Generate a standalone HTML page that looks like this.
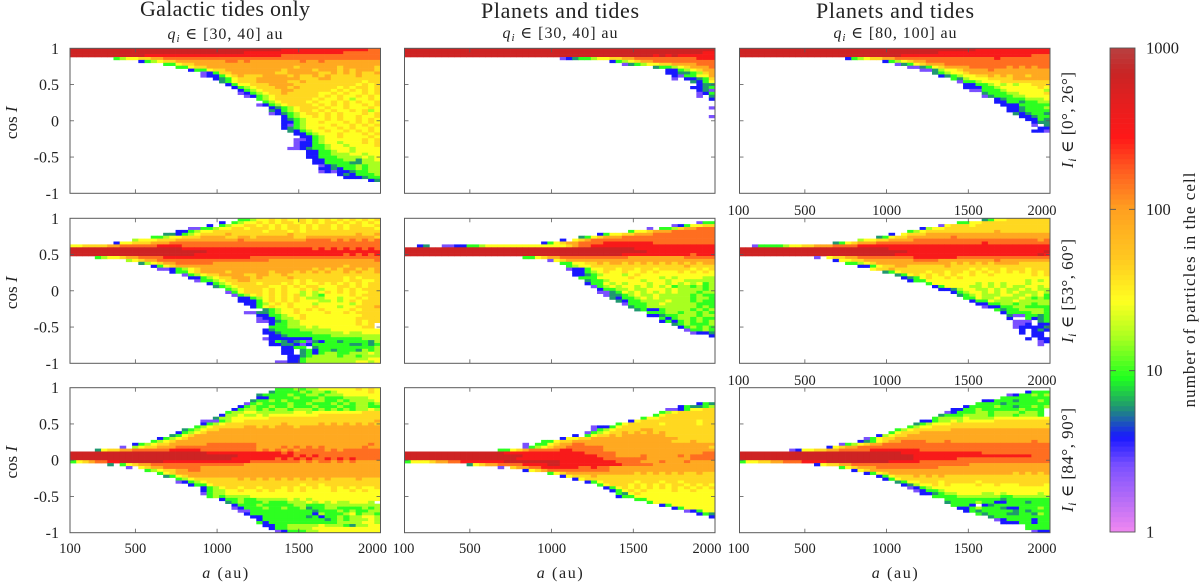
<!DOCTYPE html>
<html lang="en">
<head>
<meta charset="utf-8">
<title>Heatmaps of cos I versus semi-major axis</title>
<style>
html,body{margin:0;padding:0;background:#fff;}
svg{display:block;}
text{font-family:"Liberation Serif","DejaVu Serif",serif;fill:#222;}
</style>
</head>
<body>
<svg id="figure" width="1200" height="585" viewBox="0 0 1200 585" xmlns="http://www.w3.org/2000/svg">
<g>
<text x="225" y="16" font-size="22" text-anchor="middle" textLength="170">Galactic tides only</text>
<text x="225" y="39" font-size="16" text-anchor="middle" textLength="115"><tspan font-style="italic">q</tspan><tspan font-size="11" dy="3" font-style="italic">i</tspan><tspan dy="-3"> ∈ [30, 40] au</tspan></text>
<text x="560" y="18" font-size="22" text-anchor="middle" textLength="158">Planets and tides</text>
<text x="560" y="38" font-size="16" text-anchor="middle" textLength="115"><tspan font-style="italic">q</tspan><tspan font-size="11" dy="3" font-style="italic">i</tspan><tspan dy="-3"> ∈ [30, 40] au</tspan></text>
<text x="895" y="18" font-size="22" text-anchor="middle" textLength="158">Planets and tides</text>
<text x="895" y="38" font-size="16" text-anchor="middle" textLength="123"><tspan font-style="italic">q</tspan><tspan font-size="11" dy="3" font-style="italic">i</tspan><tspan dy="-3"> ∈ [80, 100] au</tspan></text>
</g>
<g>
<text transform="translate(1073,120) rotate(-90)" font-size="17" text-anchor="middle" textLength="96"><tspan font-style="italic">I</tspan><tspan font-size="12" dy="3" font-style="italic">i</tspan><tspan dy="-3"> ∈ [0°, 26°]</tspan></text>
<text transform="translate(1073,291) rotate(-90)" font-size="17" text-anchor="middle" textLength="104"><tspan font-style="italic">I</tspan><tspan font-size="12" dy="3" font-style="italic">i</tspan><tspan dy="-3"> ∈ [53°, 60°]</tspan></text>
<text transform="translate(1073,460) rotate(-90)" font-size="17" text-anchor="middle" textLength="104"><tspan font-style="italic">I</tspan><tspan font-size="12" dy="3" font-style="italic">i</tspan><tspan dy="-3"> ∈ [84°, 90°]</tspan></text>
</g>
<text transform="translate(1195,290) rotate(-90)" font-size="17" text-anchor="middle" textLength="235">number of particles in the cell</text>
</svg>
<script>
// Cell values: each character is an index into levelCounts ('a' = 10, '.' = empty cell).
const levelCounts = [2.6,3.9,6,9.5,16,27,42,85,150,320,640];
const xTickValues = [100,500,1000,1500,2000];
const yTickValues = [1,0.5,0,-0.5,-1];
const yTickLabels = ["1","0.5","0","-0.5","-1"];
const colorbarTicks = [1000,100,10,1];
// Each row: [row index from the top, first column, levels]
const tidesLow = [
[0,0,"aaaaaaaaaaaaaaaaaaaaaaaaaaaaaaaaaa9999999999999988"],
[1,0,"aaaaaaaaaaaaaaaaaaaaaaaaaaaa9999999999999999888888"],
[2,0,"aaaaaaaaaaaa999999999999999999999988888888888888888"],
[3,7,"34556677888888888888888888888888888888888888888"],
[4,11,"1345667777777788787777777787787777777778"],
[5,15,"335667777777777777777777777777777777"],
[6,17,"3356677777777777777677777767777767"],
[7,19,"133566777777777677776777676777677"],
[8,21,"01366777777766777776676767667666"],
[9,21,"01135676667777676676766667666766"],
[10,23,"123566677777776667766666666666"],
[11,24,"23566677777667666666666566666"],
[12,25,"1355666777766666666665656665"],
[13,26,"134566677676666665656656665"],
[14,27,"13456667766666656565656665"],
[15,27,"01345667666665565655656665"],
[16,28,"0134566666665656556565665"],
[17,30,"34566666656556545565656"],
[18,31,"345666656556565655665"],
[19,30,"013456666565656556565656"],
[20,32,"1234566656556555656565"],
[21,32,"21345665656556564565"],
[22,32,"01234566565655565655"],
[23,34,"134556565655655665"],
[24,34,"123455565655656565"],
[25,34,"113455655565656565"],
[26,34,"103455556556565665"],
[27,34,"123455655656556565"],
[28,35,"21345565565656565"],
[29,36,"1134555655565655"],
[30,37,"113455655556565"],
[31,36,"00134555555656555"],
[32,36,"01134554555656565"],
[33,36,"01133455455556555"],
[34,35,"001233455545555555"],
[35,38,"1133455455555"],
[36,38,"1133444554555"],
[37,38,"1133344445455"],
[38,39,"113334424455"],
[39,39,"113333224445"],
[40,40,"0123334344"],
[41,40,"1121334344"],
[42,40,"0101123344"],
[43,43,"1213334"],
[44,44,"111233"],
[45,48,"12"]];
const planetsLow = [
[0,0,"aaaaaaaaaaaaaaaaaaaaaaaaaaaaaaaaaaaaaaaaaaaaaaaaaaaaaa"],
[1,0,"aaaaaaaaaaaaaaaaaaaaaaaaaaaaaaaaaaaaaaaaaaaaaaaa999999"],
[2,0,"aaaaaaaaaaaaaaaaaaaaaaaaaaaaaaaaaaaaaaaa9a9a9999999999"],
[3,25,"012334556677888888888899999"],
[4,33,"13456778888888888"],
[5,35,"023455667777888"],
[6,40,"2334567778"],
[7,42,"11345677"],
[8,42,"11223467"],
[9,43,"1033557"],
[10,43,"0.11236"],
[11,46,"2135"],
[12,47,"122"],
[13,46,"1123"],
[14,47,"120"],
[15,47,"013"],
[16,47,"0.2"],
[17,49,"1"],
[20,49,"0"],
[23,49,"0"]];
const planetsFar = [
[0,0,"aaaaaaaaaaaaaaaaaaaaaaaaaaaaaaaaaaaaaa999999999999999"],
[1,0,"aaaaaaaaaaaaaaaaaaaaaaaaaaaaaaaa99999999999999999999"],
[2,0,"aaaaaaaaaaaaaaaaaaaaaaaaaa9999999999999999999998888"],
[3,17,"1345667788888888888888889888888888"],
[4,23,"134567788888888888888888888"],
[5,25,"0235677788888888888888888"],
[6,27,"00235677778888887878788"],
[7,29,"002455677778777777777"],
[8,31,"2345567777777777777"],
[9,32,"123455667676776777"],
[10,34,"3245556666777777"],
[11,35,"033455566666666"],
[12,36,"11334545455666"],
[13,36,"11133455555565"],
[14,37,"0033345555554"],
[15,39,"23334455556"],
[16,39,"02333445555"],
[17,41,"123334445"],
[18,41,"113323344"],
[19,42,"11133333"],
[20,43,"1123334"],
[21,43,"1123333"],
[22,44,"212332"],
[23,45,"11233"],
[24,46,"1132"],
[25,47,"122"],
[26,47,"0.2"],
[27,48,"11"],
[28,47,"110"]];
const tidesMid = [
[0,27,"334556565565656565656565666"],
[1,24,"1.3455656566565656656565656"],
[2,22,"1.34556656565665656656566556"],
[3,19,"0033455665666565665656656566665"],
[4,17,"1134556666666656665656666666666666"],
[5,15,"22134566667666666666766666666667667"],
[6,13,"3345566677776677677777766777777777776"],
[7,10,"45556667777777777877777777778888787878787"],
[8,7,"1556667778888888888888888888888888888888888"],
[9,0,"55666677888888999988888888888888888888888888888888"],
[10,0,"aaaaaaaaaaaaaaaaaa99999999999999999999989898989898"],
[11,0,"aaaaaaaaaaaaaaaaaaaaaa9999999999999999999999999999"],
[12,0,"aaaaaaaaaaaaaaaaaaaa999999999999999999999999898989"],
[13,4,"3455677888899999999999999888888888888888888888"],
[14,9,"456778888888888888888887777777777777777787"],
[15,11,"245677888888777777777777777777777777777"],
[16,13,"1356777777777777777777777777777677777"],
[17,14,"001345677777777777777777767676776767"],
[18,16,"1335677776777777677767676766767667"],
[19,18,"03456677776677667666666666666666"],
[20,19,"1134566777676666766666666565666"],
[21,20,"033456677666666656566666566556"],
[22,22,"13456666566656565565656565666"],
[23,23,"2345666665565656655566565666"],
[24,25,"34566656565565645565656666"],
[25,25,"03566656565545456565655666"],
[26,26,"0345656565645435555656666"],
[27,27,"113456565654445545565666"],
[28,27,"111356565655544545656666"],
[29,28,"113456565554555554566666"],
[30,29,"135655655565554556667"],
[31,31,"23455656565555656666"],
[32,28,"00223455655556556566666"],
[33,30,"11334556555555555666"],
[34,30,"01134456555555556666"],
[35,30,"00123445555555556566"],
[36,32,"13344555555555656"],
[37,32,"33344454555555566"],
[38,31,"1233334444455555555"],
[39,31,"11233333444445445555"],
[40,32,"112333333344444444"],
[41,31,"011111113333333344444"],
[42,32,"132123021332333324"],
[43,32,"112210133333322323"],
[44,34,"1133.233333333344"],
[45,34,"11.2313323332434"],
[46,34,"11.2313443344454"],
[47,35,"11234444344344444"],
[48,35,"1134444444444555"],
[49,33,"001134444444455455555"]];
const planetsMid = [
[1,47,"033"],
[2,43,"0135566"],
[3,39,"0.3346778888"],
[4,36,"3556777888888888"],
[5,31,"135566777888888888889"],
[6,28,"23567778888888888888888"],
[7,25,"1.5678888888888888888888888"],
[8,22,"13567788889999999988888888888"],
[9,2,"12..0011334555555555555567889999999999999999999999"],
[10,0,"aaaaaaaaaaaaaaaaaaaaaaaaaaaaaaaaaaaaa9999999999999"],
[11,0,"aaaaaaaaaaaaaaaaaaaaaaaaaaaaaaaaaaaaaaa99999999999"],
[12,0,"aaaaaaaaaaaaaaaaaaaaaaaaaaaaaaaaaaa999999999998999"],
[13,19,"33567788888888888777777777888888"],
[14,23,"0567777777777777777777777777"],
[15,25,"33556676776767676767676777"],
[16,26,"345566666666666666676666"],
[17,26,"01135566566566566666565666"],
[18,27,"113456556556565556565656"],
[19,27,"11234555456555555555555"],
[20,28,"3335555565555454555544"],
[21,29,"233455555455545544444"],
[22,29,"1335454555455454545343"],
[23,30,"034545545454534434344"],
[24,31,"13344544555454444344"],
[25,31,"00235454545454443443"],
[26,32,"022345445444443433"],
[27,33,"21334545444443443"],
[28,34,"2133444454443433"],
[29,35,"033344544444333"],
[30,36,"233444444443434"],
[31,37,"2311344443434"],
[32,39,"33344344343"],
[33,39,"11233444344"],
[34,41,"313443433"],
[35,41,"131343434"],
[36,43,"2343334"],
[37,44,"134343"],
[38,45,"03343"],
[39,46,"0112"],
[40,49,"1"]];
const farMid = [
[0,39,"23556666666"],
[1,35,"335566666666666"],
[2,32,"056665666666666666"],
[3,29,"145566666666666666666"],
[4,27,"34566666666666766666666"],
[5,24,"1.5666777777777777777777777"],
[6,22,"2356677777778777777777777777"],
[7,19,"4556677778888888888888888888878"],
[8,15,"23567778888888888888888898888888888"],
[9,2,"033334556677788889999999999999999999999999999999888"],
[10,0,"aaaaaaaaaaaaaaaaaaaaaaaa99999999999999999999999999"],
[11,0,"aaaaaaaaaaaaaaaaaaaaaaaaaaa9999999999999999999999a"],
[12,0,"aaaaaaaaaaaaaaaaaaaaaaaaa99999999999999999999999a9"],
[13,12,"0.56677888888888999999988888888888888888"],
[14,15,"15566777777778888777777777877777777"],
[15,17,"3345677777777777767676767777666666"],
[16,19,"11356677666666766666666666666666"],
[17,21,"566766666666666656566566656666"],
[18,23,"23566665665665656565656565666"],
[19,25,"235656565655655655555565666"],
[20,26,"123565565655555555555555"],
[21,27,"133555555555555555545455"],
[22,30,"3555555545454555455555"],
[23,31,"135555445454544554545"],
[24,32,"11245544545445454454"],
[25,34,"134554545454445444"],
[26,35,"23454445544545343"],
[27,36,"3354454445434343"],
[28,37,"133544454444434"],
[29,38,"113344344344"],
[30,39,"01133443333"],
[31,41,"3233444433"],
[32,42,"13333443"],
[33,43,"2003323"],
[34,43,"1..3123"],
[35,44,"000.233"],
[36,44,"001.112"],
[37,44,"011112"],
[38,45,"1.121"],
[39,45,"1.11."],
[40,47,"11."],
[41,46,"1.11"],
[42,48,"01"],
[43,48,"0"]];
const tidesPolar = [
[0,33,"33343445555556565"],
[1,32,"233334344345555565"],
[2,30,"2333343344344455555555"],
[3,30,"11333343334333444455555"],
[4,29,"233434333344334344445543"],
[5,28,"0343333433433343434434333"],
[6,27,"1343343343334333433443343"],
[7,26,"134434344344434343434454555"],
[8,25,"3445544444455455555555666666"],
[9,24,"14454454555555556666666666"],
[10,23,"2445555556666666666666666666"],
[11,21,"0003455666666666666666666666766"],
[12,21,"134566666666676666676767676767"],
[13,20,"3456666677676777677777777777777"],
[14,18,"23456677777777777777777777777777"],
[15,17,"1345677777777777777777777777777777"],
[16,16,"23567777777777777777777777777777777"],
[17,14,"1345677777777777777777777777777777777"],
[18,13,"34567777777777777777777777777777777777"],
[19,10,"1345667777778888888877777777777777777787878787"],
[20,8,"0.4566777888888888888877778787878777777877877"],
[21,4,"25667788888899999888888888787878788887878888887"],
[22,0,"aaaaaaaaaaaaaaaaaaaaaa9999999999998988888888888888"],
[23,0,"aaaaaaaaaaaaaaaaaaaaaaaaaaa99999999989898888888888"],
[24,0,"aaaaaaaaaaaaaaaaaaaaaaaaaa999999989898988989898888"],
[25,0,"35678899aaaaaaa99999999999999888888887878878787777"],
[26,6,"2.356778888888888888887777777777777777777777"],
[27,9,"0.5677888888777777777777777777777777777777"],
[28,12,"345667788777777777777777777777777777777"],
[29,14,"35677777777777777777777777777777777777"],
[30,15,"235677777777777777777777777777777776"],
[31,17,"3456666666767676767676767666676666"],
[32,17,"0134566666666666666666666666666666"],
[33,19,"133566666666666666566566666666666"],
[34,21,"134566566566656565655656565566"],
[35,21,"13445565565655656555565565655"],
[36,21,"03445555555555555555555555555"],
[37,22,"3434444555555555555555555555"],
[38,24,"133433444445454555555555555"],
[39,25,"234333433344454545445554"],
[40,26,"133343333344333444444444"],
[41,26,"013334334334233443333434"],
[42,27,"00333333333323334343344"],
[43,28,"13333333333143334534434"],
[44,29,"113333333231334344554"],
[45,30,"13333333333234344454"],
[46,30,"313333333333344445545"],
[47,31,"1133444445444324455"],
[48,32,"133444455555555555"],
[49,33,"01333445555555555"]];
const planetsPolar = [
[5,47,"132"],
[6,44,"132234"],
[7,42,"00135566"],
[8,41,"345666666"],
[9,40,"3566666666"],
[10,38,"355666666666"],
[11,36,"15666666666566"],
[12,34,"3566666566666566"],
[13,30,"01135666666666666666"],
[14,30,"03456666776666666666"],
[15,29,"0345667676767666666665"],
[16,27,"1.35667677777776666666666"],
[17,25,"15566777777777777776666666"],
[18,22,"33566777777777777777766676666"],
[19,19,"0.3356778877777777777777777777777"],
[20,19,"03456778888887777777777777777767"],
[21,15,"33567888889988888777777777777777777"],
[22,0,"aaaaaaaaaaaaaaaa9999999999999888887777777777777788"],
[23,0,"aaaaaaaaaaaaaaaaaaa9999999999998887777877777878888"],
[24,0,"aaaaaaaaaaaaaaaaaa99999999999999888888877777778888"],
[25,0,"3555677889999999aaaaaaaaa99999999988887778777877777"],
[26,10,"2567788889999aa99999999998888877777777777777"],
[27,15,"0.67788999999889887777777777777777777"],
[28,19,"1567888888888877777777777777777"],
[29,23,"356777777777776767676766766666"],
[30,25,"1566676666666666666666666666"],
[31,27,"15666666666666666666666666"],
[32,29,"13566666566656656666666"],
[33,31,"356665656565665656566"],
[34,32,"13565656565656565656"],
[35,33,"1356565555655655556"],
[36,34,"325655555555555556"],
[37,34,"13355555555555555"],
[38,37,"33555555555555"],
[39,39,"355555555555"],
[40,41,"1355555555"],
[41,43,"1355555"],
[42,45,"01355"],
[43,47,"132"],
[44,49,"1"]];
const farPolar = [
[1,46,"1333"],
[2,43,"0133434"],
[3,42,"33333333"],
[4,39,"11333233343"],
[5,38,"333323333333"],
[6,36,"13333433233434"],
[7,34,"113343333334333"],
[8,33,"0133344344443443"],
[9,32,"23334444344434443"],
[10,31,"3444454444555555555"],
[11,29,"113445455555666666666"],
[12,28,"23455566666666666666666"],
[13,27,"3455666666666666666666666"],
[14,25,"3456666667777777777777777"],
[15,24,"35666777777777777777777777"],
[16,22,"1456677777777777777777777777"],
[17,20,"03566777777777777777777777777777"],
[18,19,"12356778888777877777777777778777"],
[19,16,"0345677888888888888888888888888888"],
[20,14,"156778888888888888888888888888888888"],
[21,8,"015566778888899999999888888888888888888888"],
[22,0,"aaaaaaaaaaaaaaaaaaaaaaaaaa999999999999988888888888"],
[23,0,"aaaaaaaaaaaaaaaaaaaaaaaaaaaa99999999999999999998888"],
[24,0,"aaaaaaaaaaaaaaaaaaaaaaaaaaaa9999999888888888888888"],
[25,0,"35566778889999aaaaaaaaaa99999888888888888888888888"],
[26,12,"156677888888888888888888877777777777777777"],
[27,16,"3567778888888888777777777777777777"],
[28,18,"156777777777777777777777777777776"],
[29,20,"13567777777777777777777767676767"],
[30,22,"13566676767666666666666666666"],
[31,23,"1356666666666666666666666666"],
[32,25,"2355666566666566666666666"],
[33,26,"124556565555655655566665"],
[34,27,"0134555555555555555555555"],
[35,28,"013345555555555555555555"],
[36,29,"1123445555445455555455"],
[37,31,"3333444444433444444444"],
[38,33,"333333333233333333"],
[39,33,"23333433113332333"],
[40,34,"3331.12333333333"],
[41,35,"113433321133343"],
[42,36,"132333332323333"],
[43,38,"3233322332433"],
[44,40,"2333333333"],
[45,41,"013333133"],
[46,42,"11133133"],
[47,46,"3333"],
[48,46,"3333"],
[49,47,"011"]];
const panelData = [[tidesLow,planetsLow,planetsFar],[tidesMid,planetsMid,farMid],[tidesPolar,planetsPolar,farPolar]];
const panelColumns = ["tides-q30","planets-q30","planets-q80"];
const panelRows = ["low-inclination","mid-inclination","polar-inclination"];
const SVGNS = "http://www.w3.org/2000/svg";
const svg = document.getElementById("figure");
const colLeft = [70,404.5,739.5];
const rowTop = [48.3,218.3,387.7];
const panelW = 310.5, panelH = 145;
const aMin = 100, aMax = 2000, binA = 38, binCos = 0.04;
const barX = 1110, barW = 25, barTop = 48, barBottom = 532;
const colorStops = [[1,"#f088f0"],[2.6,"#7a50ff"],[3.9,"#1818ff"],[6,"#209870"],[9,"#20ff20"],[16,"#a8ff20"],[27,"#ffff20"],[50,"#ffc820"],[100,"#ffa020"],[180,"#ff5820"],[280,"#ff1818"],[500,"#e02020"],[700,"#c82424"],[1000,"#b84040"]];
function hexToRgb(h){return [parseInt(h.slice(1,3),16),parseInt(h.slice(3,5),16),parseInt(h.slice(5,7),16)];}
function countColor(v){
  const lv=Math.log10(Math.max(1,Math.min(1000,v)));
  for(let i=1;i<colorStops.length;i++){
    const l0=Math.log10(colorStops[i-1][0]),l1=Math.log10(colorStops[i][0]);
    if(lv<=l1){
      const t=(lv-l0)/(l1-l0),a=hexToRgb(colorStops[i-1][1]),b=hexToRgb(colorStops[i][1]);
      return "rgb("+a.map((c,k)=>Math.round(c+(b[k]-c)*t)).join(",")+")";
    }
  }
  return colorStops[colorStops.length-1][1];
}
function xScale(col,a){return colLeft[col]+(a-aMin)/(aMax-aMin)*panelW;}
function yScale(row,c){return rowTop[row]+(1-c)/2*panelH;}
function barScale(v){return barBottom-Math.log10(v)/3*(barBottom-barTop);}
function makeLine(parent,x1,y1,x2,y2,stroke,w){
  const l=document.createElementNS(SVGNS,"line");
  l.setAttribute("x1",x1);l.setAttribute("y1",y1);l.setAttribute("x2",x2);l.setAttribute("y2",y2);
  l.setAttribute("stroke",stroke);l.setAttribute("stroke-width",w);
  
  
  parent.appendChild(l);
  return l;
}
function makeLabel(parent,x,y,txt,anchor,size){
  const t=document.createElementNS(SVGNS,"text");
  t.setAttribute("x",x);t.setAttribute("y",y);t.setAttribute("text-anchor",anchor);t.setAttribute("font-size",size);
  t.textContent=txt;
  
  
  parent.appendChild(t);
  return t;
}
panelData.forEach((rowPanels,row)=>{
  rowPanels.forEach((rows,col)=>{
    const g=document.createElementNS(SVGNS,"g");
    
    
    svg.appendChild(g);
    const x0=colLeft[col],x1=x0+panelW,y0=rowTop[row],y1=y0+panelH;
    rows.forEach(rowEntry=>{
      const r=rowEntry[0],start=rowEntry[1],levels=rowEntry[2];
      for(let i=0;i<levels.length&&start+i<50;i++){
        const ch=levels[i];
        if(ch==="."||ch===" ")continue;
        const idx=ch==="a"?10:parseInt(ch,10);
        const c=start+i;
        const xa=xScale(col,aMin+c*binA),xb=xScale(col,aMin+(c+1)*binA);
        const ya=yScale(row,1-r*binCos),yb=yScale(row,1-(r+1)*binCos);
        const cell=document.createElementNS(SVGNS,"rect");
        cell.setAttribute("x",xa.toFixed(2));
        cell.setAttribute("y",ya.toFixed(2));
        cell.setAttribute("width",(xb-xa+0.35).toFixed(2));
        cell.setAttribute("height",(yb-ya+0.3).toFixed(2));
        cell.setAttribute("fill",countColor(levelCounts[idx]));
        
        
        g.appendChild(cell);
      }
    });
    const stroke="#5a5a5a";
    xTickValues.forEach(a=>{
      const x=xScale(col,a);
      if(a!==aMin&&a!==aMax){
        makeLine(g,x,y0,x,y0+4,stroke,0.8);
        makeLine(g,x,y1,x,y1-4,stroke,0.8);
      }
    });
    yTickValues.forEach(c=>{
      const y=yScale(row,c);
      if(c!==1&&c!==-1){
        makeLine(g,x0,y,x0+4,y,stroke,0.8);
        makeLine(g,x1,y,x1-4,y,stroke,0.8);
      }
    });
    const frame=document.createElementNS(SVGNS,"rect");
    frame.setAttribute("x",x0);frame.setAttribute("y",y0);
    frame.setAttribute("width",panelW);frame.setAttribute("height",panelH);
    frame.setAttribute("fill","none");frame.setAttribute("stroke",stroke);frame.setAttribute("stroke-width","1");
    
    
    g.appendChild(frame);
    if(col===0){
      yTickValues.forEach((c,i)=>{
        makeLabel(g,59,yScale(row,c)+5.5,yTickLabels[i],"end",16);
      });
      const yt=document.createElementNS(SVGNS,"text");
      yt.setAttribute("transform","translate(17,"+(y0+panelH/2+2)+") rotate(-90)");
      yt.setAttribute("text-anchor","middle");
      yt.setAttribute("font-size","17");
      
      
      yt.textContent="cos ";
      const ti=document.createElementNS(SVGNS,"tspan");
      ti.setAttribute("font-style","italic");
      ti.textContent="I";
      
      
      yt.appendChild(ti);
      g.appendChild(yt);
    }
    if(row===2||col===2){
      xTickValues.forEach(a=>{
        const shift=a===2000?-8:(a===100&&col>0?-1:0);
        makeLabel(g,xScale(col,a)+shift,y1+(row===2?20.5:21.5),String(a),"middle",14.5);
      });
    }
    if(row===2){
      const xt=document.createElementNS(SVGNS,"text");
      xt.setAttribute("x",x0+panelW/2);
      xt.setAttribute("y",578);
      xt.setAttribute("text-anchor","middle");
      xt.setAttribute("font-size","16");
      xt.setAttribute("textLength","46");
      
      
      const xi=document.createElementNS(SVGNS,"tspan");
      xi.setAttribute("font-style","italic");
      xi.textContent="a";
      
      
      xt.appendChild(xi);
      xt.appendChild(document.createTextNode(" (au)"));
      g.appendChild(xt);
    }
  });
});
const bar=document.createElementNS(SVGNS,"g");


svg.appendChild(bar);
const stripeCount=96;
for(let i=0;i<stripeCount;i++){
  const lo=Math.pow(10,i/stripeCount*3),hi=Math.pow(10,(i+1)/stripeCount*3),mid=Math.sqrt(lo*hi);
  const s=document.createElementNS(SVGNS,"rect");
  s.setAttribute("x",barX);
  s.setAttribute("y",barScale(hi).toFixed(2));
  s.setAttribute("width",barW);
  s.setAttribute("height",(barScale(lo)-barScale(hi)+0.3).toFixed(2));
  s.setAttribute("fill",countColor(mid));
  
  
  bar.appendChild(s);
}
const barFrame=document.createElementNS(SVGNS,"rect");
barFrame.setAttribute("x",barX);barFrame.setAttribute("y",barTop);
barFrame.setAttribute("width",barW);barFrame.setAttribute("height",barBottom-barTop);
barFrame.setAttribute("fill","none");barFrame.setAttribute("stroke","#555");barFrame.setAttribute("stroke-width","0.9");


bar.appendChild(barFrame);
colorbarTicks.forEach(v=>{
  const y=barScale(v);
  if(v!==1000&&v!==1){
    makeLine(bar,barX,y,barX+6,y,"#555",0.9);
    makeLine(bar,barX+barW,y,barX+barW-6,y,"#555",0.9);
  }
  makeLabel(bar,1146,y+5.5,String(v),"start",16.5);
});
</script>
</body>
</html>
